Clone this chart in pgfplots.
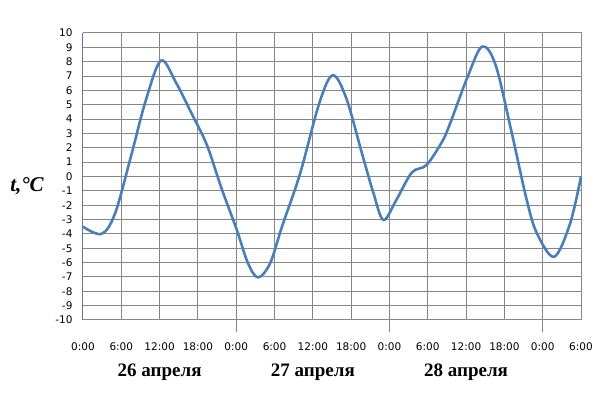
\documentclass[border=0pt]{standalone}
\usepackage{fontspec}
\setmainfont{Liberation Serif}
\newfontfamily\tickfont{DejaVu Sans}
\usepackage{pgfplots}
\pgfplotsset{compat=1.18}

\definecolor{lineblue}{RGB}{74,126,187}
\definecolor{gridgray}{RGB}{134,134,134}

\begin{document}
\begin{tikzpicture}
\useasboundingbox (-83pt,-95pt) rectangle (533pt,320pt);
\begin{axis}[
  at={(0,0)}, anchor=south west,
  scale only axis, width=498pt, height=287pt,
  xmin=0, xmax=78, ymin=-10, ymax=10,
  xtick={0,6,...,78},
  xticklabels={0:00,6:00,12:00,18:00,0:00,6:00,12:00,18:00,0:00,6:00,12:00,18:00,0:00,6:00},
  ytick={-10,-9,...,10},
  /pgf/number format/assume math mode=true,
  tick label style={font=\tickfont\fontsize{10.5}{12}\selectfont},
  xticklabel style={yshift=-19pt},
  yticklabel style={xshift=-7pt},
  major tick length=0pt,
  extra x ticks={24,48,72},
  extra x tick labels={},
  extra x tick style={major tick length=12pt, tick align=outside, tick style={gridgray, line width=1pt}, grid=none},
  grid=major,
  grid style={gridgray, line width=1pt},
  axis line style={gridgray, line width=1pt},
  axis x line*=bottom, axis y line*=left,
  y axis line style={lineblue!70!gray},
  clip=false,
]
\draw[gridgray, line width=1pt] (axis cs:0,10) -- (axis cs:78,10) -- (axis cs:78,-10);
\addplot[lineblue, line width=2.6pt, smooth, tension=0.55] coordinates {
  (0,-3.5) (2.9,-4.0) (5,-2.6) (7.5,1.38) (9.8,5.25) (12.2,8.07)
  (14.5,6.6) (17,4.4) (19.4,2.2) (21.7,-0.83) (24.1,-3.73) (25.8,-6.0)
  (27.4,-7.03) (29.3,-6.05) (31.2,-3.45) (34,0.2) (37,5.1) (39.1,7.05)
  (41.2,5.5) (43.7,1.6) (45.5,-1.17) (47.05,-3.03) (49,-1.7) (51.5,0.27)
  (53.8,0.8) (56.3,2.47) (57.5,3.7) (60.2,6.9) (62.5,9.05) (64.6,7.8)
  (67,3.35) (69.5,-1.64) (71.1,-3.96) (73.8,-5.59) (76.3,-3.26) (78,0)
};
\node[font=\bfseries\fontsize{19}{22}\selectfont] at (axis cs:12,-10) [yshift=-52pt] {26 апреля};
\node[font=\bfseries\fontsize{19}{22}\selectfont] at (axis cs:36,-10) [yshift=-52pt] {27 апреля};
\node[font=\bfseries\fontsize{19}{22}\selectfont] at (axis cs:60,-10) [yshift=-52pt] {28 апреля};
\end{axis}
\node[font=\bfseries\itshape\fontsize{21}{24}\selectfont] at (-56pt,134pt) {t,°C};
\end{tikzpicture}
\end{document}
